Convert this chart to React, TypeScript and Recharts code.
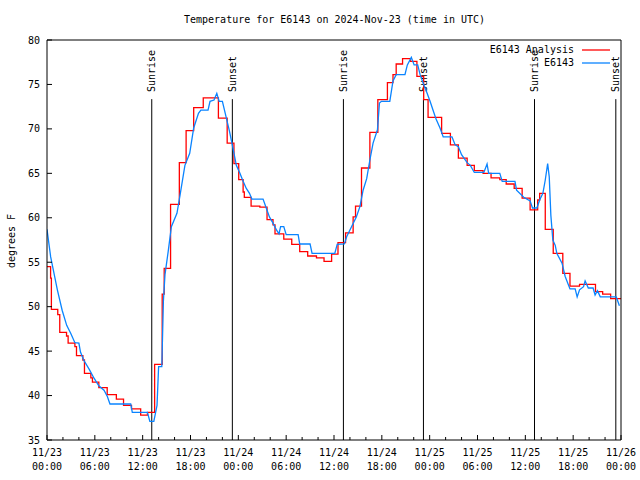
import { Legend, Line, LineChart, ReferenceLine, XAxis, YAxis } from 'recharts';

const FONT = '"DejaVu Sans Mono", "Liberation Mono", monospace';
const ANALYSIS_COLOR = '#ff0000';
const STATION_COLOR = '#0a84ff';

// hours since 11/23 00:00 UTC
const HOUR_TICKS = [
  0, 2, 4, 6, 8, 10, 12, 14, 16, 18, 20, 22, 24, 26, 28, 30, 32, 34, 36, 38, 40, 42, 44, 46, 48, 50,
  52, 54, 56, 58, 60, 62, 64, 66, 68, 70, 72,
];
const DAY_LABELS = ['11/23', '11/23', '11/23', '11/23', '11/24', '11/24', '11/24', '11/24', '11/25', '11/25', '11/25', '11/25', '11/26'];
const TIME_LABELS = ['00:00', '06:00', '12:00', '18:00', '00:00', '06:00', '12:00', '18:00', '00:00', '06:00', '12:00', '18:00', '00:00'];
const TEMP_TICKS = [35, 40, 45, 50, 55, 60, 65, 70, 75, 80];

const SUN_EVENT_NAMES = ['Sunrise', 'Sunset', 'Sunrise', 'Sunset', 'Sunrise', 'Sunset'];
const SUN_EVENT_HOURS = [13.14, 23.25, 37.18, 47.22, 61.15, 71.35];

// E6143 Analysis (stepped)
const ANALYSIS_HOURS = [
  0, 0.45, 0.55, 1.35, 1.6, 2.45, 2.65, 3.5, 3.7, 4.5, 4.7, 5.5, 5.7, 6.5, 7.55, 8.7, 9.6, 10.6, 11.75,
  12.6, 13.5, 14.45, 14.7, 15.5, 16.6, 17.45, 18.4, 19.6, 21.5, 22.6, 23.45, 24.05, 24.6, 24.75, 25.6,
  26.7, 27.6, 28.35, 28.6, 29.7, 30.7, 31.7, 32.7, 33.8, 34.75, 35.7, 36.5, 37.45, 38.4, 38.7, 39.45,
  40.5, 41.5, 42.7, 43.4, 43.8, 44.6, 45.6, 46.4, 47.25, 47.8, 49.5, 50.6, 51.6, 52.7, 53.6, 54.7,
  55.7, 56.8, 57.6, 58.6, 59.6, 60.6, 61.55, 61.8, 62.5, 63.5, 64.7, 65.6, 66.8, 68.8, 69.7, 70.7, 72,
];
const ANALYSIS_TEMPS = [
  54.5, 53.2, 49.7, 49.1, 47.1, 46.7, 45.9, 45.5, 44.5, 44.0, 42.5, 42.0, 41.5, 40.9, 40.1, 39.6, 38.9,
  38.5, 37.8, 38.1, 43.5, 51.4, 54.3, 61.5, 66.2, 69.8, 72.4, 73.5, 71.2, 68.4, 66.1, 64.3, 62.9, 62.3,
  61.3, 61.2, 59.8, 59.2, 58.2, 57.6, 57.0, 56.2, 55.7, 55.5, 55.1, 55.9, 57.2, 58.3, 60.1, 61.3, 65.6,
  69.6, 73.3, 75.2, 76.1, 77.3, 77.9, 77.6, 75.9, 73.3, 71.3, 69.5, 68.2, 66.7, 65.9, 65.3, 65.0, 64.5,
  64.3, 63.8, 63.3, 62.2, 60.9, 62.0, 62.75, 58.7, 56.0, 53.75, 52.3, 52.5, 51.7, 51.4, 50.9, 50.9,
];

// E6143 station obs
const STATION_HOURS = [
  0, 0.46, 1.3, 1.9, 2.47, 2.97, 3.5, 4.0, 4.2, 4.6, 5.3, 5.9, 6.5, 7.15, 7.57, 7.9, 10.5, 10.7, 12.6,
  12.9, 13.4, 13.8, 14.0, 14.4, 14.6, 14.8, 15.2, 15.6, 16.3, 16.7, 17.3, 17.9, 18.4, 19.0, 19.3, 20.2,
  20.45, 20.95, 21.3, 21.6, 22.0, 22.5, 22.9, 23.4, 23.75, 24.2, 24.6, 25.0, 25.4, 25.7, 27.1, 27.5,
  27.9, 28.35, 28.8, 29.1, 29.3, 29.7, 30.0, 31.5, 31.7, 33.0, 33.25, 36.1, 36.4, 37.3, 37.6, 38.2,
  38.8, 39.25, 39.65, 40.1, 40.5, 40.9, 41.45, 41.7, 41.95, 43.0, 43.4, 43.8, 44.9, 45.2, 45.7, 46.05,
  46.5, 46.8, 47.2, 47.6, 48.05, 48.5, 48.8, 49.3, 49.7, 50.8, 51.2, 51.6, 52.0, 52.7, 53.1, 53.6, 54.8,
  55.2, 55.4, 56.8, 57.1, 58.7, 58.9, 59.8, 60.6, 60.9, 61.45, 61.8, 62.2, 62.5, 62.8, 63.0, 63.2,
  63.45, 63.75, 63.95, 64.6, 65.0, 65.6, 66.25, 66.5, 66.8, 67.3, 67.5, 67.9, 68.5, 68.75, 69.05, 69.4,
  71.4, 71.6, 71.8,
];
const STATION_TEMPS = [
  58.7, 55.6, 51.9, 49.6, 47.9, 47.0, 45.95, 45.9, 44.9, 44.0, 42.95, 41.95, 41.1, 40.6, 39.9, 39.05,
  39.05, 38.1, 38.1, 37.1, 37.1, 38.9, 43.25, 43.25, 50.6, 53.6, 56.2, 59.0, 60.5, 62.6, 65.9, 67.25,
  70.1, 71.75, 72.1, 72.1, 73.1, 73.25, 74.0, 73.1, 73.1, 71.2, 69.7, 67.5, 65.9, 65.0, 64.1, 63.3,
  62.75, 62.1, 62.1, 61.1, 60.1, 59.4, 58.6, 58.2, 59.0, 59.0, 58.1, 58.1, 57.05, 57.05, 56.0, 56.0,
  57.0, 57.05, 57.9, 59.0, 60.1, 61.25, 63.1, 64.4, 66.5, 68.4, 69.9, 72.9, 73.1, 73.1, 75.4, 76.1,
  76.1, 77.2, 78.05, 77.2, 77.2, 76.1, 75.1, 74.2, 73.1, 71.9, 71.1, 70.1, 69.1, 69.1, 68.2, 68.0, 67.1,
  66.2, 65.9, 65.1, 65.1, 66.05, 65.0, 65.0, 64.1, 64.1, 63.1, 62.3, 61.9, 61.1, 61.1, 62.0, 62.75,
  64.25, 66.1, 64.6, 60.3, 57.5, 56.9, 56.0, 54.9, 53.4, 52.0, 52.0, 51.1, 51.9, 52.25, 52.9, 52.1, 52.1,
  51.3, 51.8, 51.1, 51.1, 50.6, 50.1,
];

const analysisData = ANALYSIS_HOURS.map((h, i) => ({ h, temp: ANALYSIS_TEMPS[i] }));
const stationData = STATION_HOURS.map((h, i) => ({ h, temp: STATION_TEMPS[i] }));

const textStyle = { fontFamily: FONT, fontSize: 10, fill: '#000' };

function BottomTick({ x, y, payload }: any) {
  const h = payload.value as number;
  const major = h % 6 === 0;
  return (
    <g>
      <line x1={x} x2={x} y1={y} y2={y - (major ? 5 : 3)} stroke="#000" />
      {major && (
        <text x={x} y={y + 16} textAnchor="middle" style={textStyle}>
          <tspan x={x}>{DAY_LABELS[h / 6]}</tspan>
          <tspan x={x} dy={14}>{TIME_LABELS[h / 6]}</tspan>
        </text>
      )}
    </g>
  );
}

function TopTick({ x, y, payload }: any) {
  const major = (payload.value as number) % 6 === 0;
  return <line x1={x} x2={x} y1={y} y2={y + (major ? 5 : 3)} stroke="#000" />;
}

function LeftTick({ x, y, payload }: any) {
  return (
    <g>
      <line x1={x} x2={x + 5} y1={y} y2={y} stroke="#000" />
      <text x={x - 7} y={y} dy="0.35em" textAnchor="end" style={textStyle}>
        {payload.value}
      </text>
    </g>
  );
}

function RightTick({ x, y }: any) {
  return <line x1={x} x2={x - 5} y1={y} y2={y} stroke="#000" />;
}

function SunLabel({ viewBox, text }: any) {
  const { x, y } = viewBox;
  return (
    <text
      transform={`translate(${x},${y - 7}) rotate(-90)`}
      dy="0.35em"
      textAnchor="start"
      style={textStyle}
    >
      {text}
    </text>
  );
}

function LegendBox() {
  const rows = [
    { name: 'E6143 Analysis', color: ANALYSIS_COLOR },
    { name: 'E6143', color: STATION_COLOR },
  ];
  return (
    <div style={{ fontFamily: FONT, fontSize: 10 }}>
      {rows.map((r) => (
        <div key={r.name} style={{ display: 'flex', justifyContent: 'flex-end', alignItems: 'center', height: 13 }}>
          <span>{r.name}</span>
          <svg width={28} height={4} style={{ marginLeft: 8 }}>
            <line x1={0} x2={28} y1={2} y2={2} stroke={r.color} strokeWidth={1.3} />
          </svg>
        </div>
      ))}
    </div>
  );
}

export default function App() {
  return (
    <div style={{ position: 'absolute', left: 0, top: 0, width: 640, height: 480, background: '#fff' }}>
      <div
        style={{ position: 'absolute', left: 184, top: 14, fontFamily: FONT, fontSize: 10, whiteSpace: 'pre' }}
      >
        Temperature for E6143 on 2024-Nov-23 (time in UTC)
      </div>
      <div
        style={{
          position: 'absolute',
          left: 11,
          top: 241,
          transform: 'translate(-50%, -50%) rotate(-90deg)',
          fontFamily: FONT,
          fontSize: 10,
          whiteSpace: 'pre',
        }}
      >
        degrees F
      </div>
      <LineChart width={640} height={480} margin={{ top: 10, right: 0, bottom: 0, left: 0 }}>
        <XAxis
          xAxisId="b"
          type="number"
          dataKey="h"
          domain={[0, 72]}
          ticks={HOUR_TICKS}
          interval={0}
          allowDataOverflow
          height={40}
          tickSize={0}
          tickMargin={0}
          tick={<BottomTick />}
          axisLine={{ stroke: '#000' }}
        />
        <XAxis
          xAxisId="t"
          orientation="top"
          type="number"
          dataKey="h"
          domain={[0, 72]}
          ticks={HOUR_TICKS}
          interval={0}
          height={30}
          tickSize={0}
          tickMargin={0}
          tick={<TopTick />}
          axisLine={{ stroke: '#000' }}
        />
        <YAxis
          yAxisId="l"
          type="number"
          domain={[35, 80]}
          ticks={TEMP_TICKS}
          interval={0}
          width={47}
          tickSize={0}
          tickMargin={0}
          tick={<LeftTick />}
          axisLine={{ stroke: '#000' }}
        />
        <YAxis
          yAxisId="r"
          orientation="right"
          type="number"
          domain={[35, 80]}
          ticks={TEMP_TICKS}
          interval={0}
          width={19}
          tickSize={0}
          tickMargin={0}
          tick={<RightTick />}
          axisLine={{ stroke: '#000' }}
        />
        {SUN_EVENT_HOURS.map((h, i) => (
          <ReferenceLine
            key={i}
            xAxisId="b"
            yAxisId="l"
            segment={[
              { x: h, y: 35 },
              { x: h, y: 73.35 },
            ]}
            stroke="#000"
            strokeWidth={1}
            label={<SunLabel text={SUN_EVENT_NAMES[i]} />}
          />
        ))}
        <Line
          xAxisId="b"
          yAxisId="l"
          data={analysisData}
          dataKey="temp"
          name="E6143 Analysis"
          type="stepAfter"
          stroke={ANALYSIS_COLOR}
          strokeWidth={1.3}
          dot={false}
          isAnimationActive={false}
        />
        <Line
          xAxisId="b"
          yAxisId="l"
          data={stationData}
          dataKey="temp"
          name="E6143"
          type="linear"
          stroke={STATION_COLOR}
          strokeWidth={1.3}
          dot={false}
          isAnimationActive={false}
        />
        <Legend
          layout="vertical"
          align="center"
          verticalAlign="middle"
          content={<LegendBox />}
          wrapperStyle={{ top: 43, left: 480, width: 130, height: 26 }}
        />
      </LineChart>
    </div>
  );
}
